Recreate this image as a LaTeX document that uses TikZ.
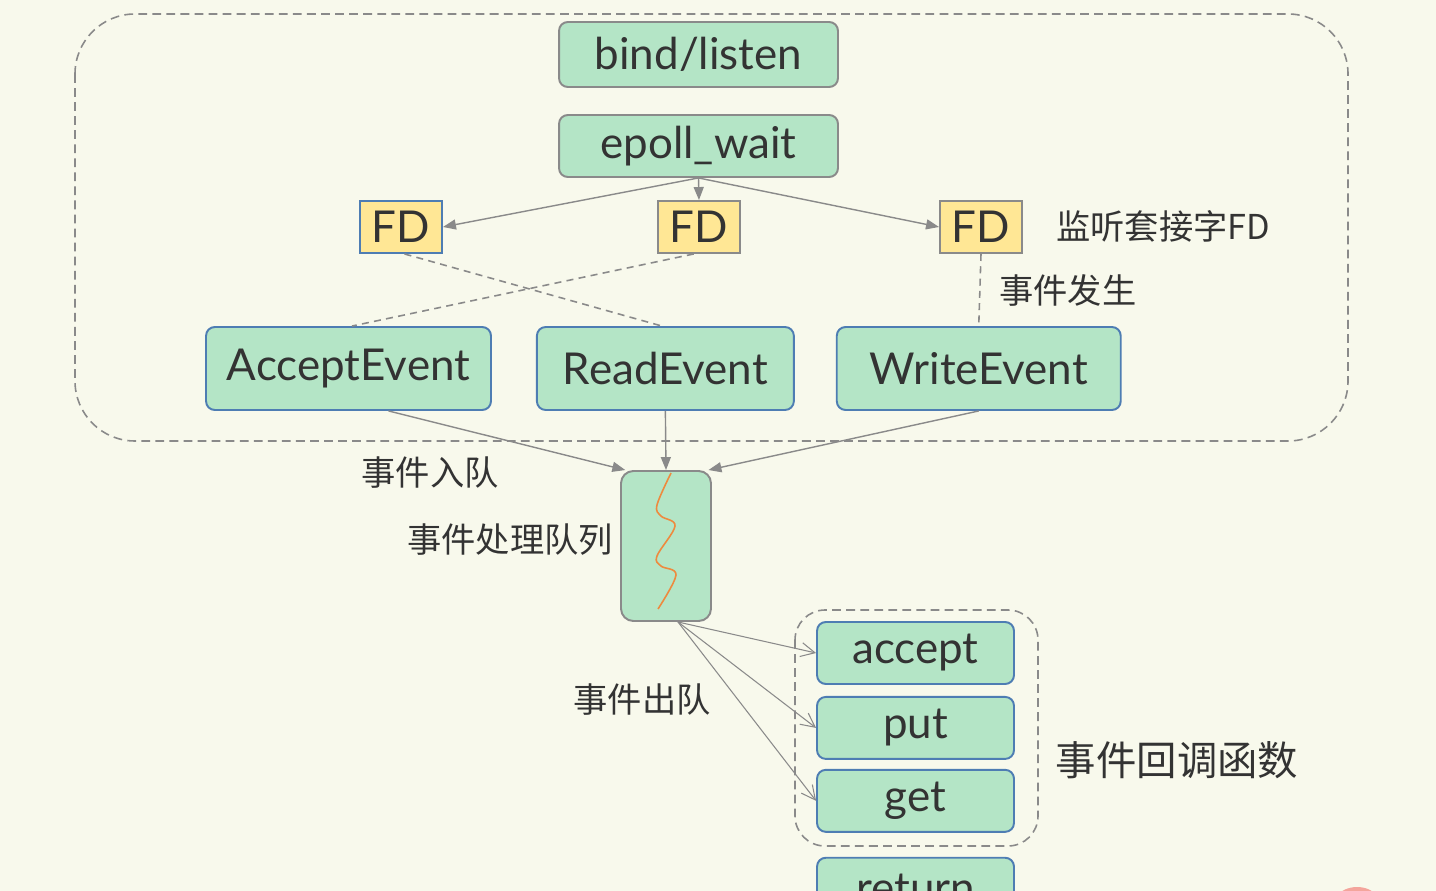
\documentclass[tikz,border=0pt]{standalone}
\usepackage{fontspec}
\setmainfont{Lato}
\newfontfamily\cjk{Noto Sans CJK SC}
\usetikzlibrary{arrows.meta,positioning}
\definecolor{bgcream}{HTML}{F8F9EC}
\definecolor{boxgreen}{HTML}{B4E5C6}
\definecolor{fdyellow}{HTML}{FFE795}
\definecolor{edgegray}{HTML}{8A8A8A}
\definecolor{edgeblue}{HTML}{4E7DB3}
\definecolor{txtgray}{HTML}{333333}
\definecolor{squiggle}{HTML}{EE8A3E}
\definecolor{dotred}{HTML}{F4A59C}

\begin{document}
\begin{tikzpicture}[
  x=0.02cm, y=-0.02cm,
  font=\fontsize{25}{30}\selectfont, text=txtgray,
  box/.style={rounded corners=5pt, fill=boxgreen, line width=1.1pt,
              inner sep=0pt, minimum height=1.24cm},
  gbox/.style={box, draw=edgegray, minimum width=5.58cm},
  ebox/.style={box, draw=edgeblue, minimum height=1.66cm},
  cbox/.style={box, draw=edgeblue, minimum width=3.94cm},
  fdbox/.style={fill=fdyellow, line width=1.1pt, inner sep=0pt,
                minimum width=1.64cm, minimum height=1.04cm},
  lbl/.style={font=\cjk\fontsize{19.5}{24}\selectfont},
  frame/.style={draw=edgegray, line width=0.9pt, dash pattern=on 5pt off 3pt},
  link/.style={draw=edgegray, line width=0.9pt, dash pattern=on 4pt off 3pt},
  arr/.style={-{Triangle[length=2.6mm,width=2mm]}, draw=edgegray, line width=0.8pt},
  deq/.style={-{Straight Barb[length=2.8mm,width=2.8mm]}, draw=edgegray, line width=0.6pt},
]
\clip (0,0) rectangle (1436,891);
\fill[bgcream] (0,0) rectangle (1436,891);

\draw[frame, rounded corners=1.2cm] (75,14) rectangle (1348,441);
\draw[frame, rounded corners=0.6cm] (795,610) rectangle (1038,846);

\node[gbox, minimum height=1.30cm] (bind) at (698.5,54.5) {bind/listen};
\node[gbox] (epoll) at (698.5,146) {epoll\_wait};

\node[fdbox, draw=edgeblue] (fd1) at (401,227) {FD};
\node[fdbox, draw=edgegray] (fd2) at (699,227) {FD};
\node[fdbox, draw=edgegray] (fd3) at (981,227) {FD};
\node[lbl, anchor=west] (fdnote) at (1050,226) {监听套接字FD};

\node[ebox, minimum width=5.70cm] (acc) at (348.5,368.5) {AcceptEvent};
\node[ebox, minimum width=5.14cm, right=0.88cm of acc] (rd) {ReadEvent};
\node[ebox, minimum width=5.68cm, right=0.82cm of rd] (wr) {WriteEvent};
\node[lbl, anchor=west] (happen) at (993,290) {事件发生};

\draw[arr] (epoll.south) -- (fd1.east);
\draw[arr] (epoll.south) -- (fd2.north);
\draw[arr] (epoll.south) -- (fd3.west);

\draw[link] ([xshift=2pt]fd1.south) -- ([xshift=-2pt]rd.north);
\draw[link] ([xshift=-3pt]fd2.south) -- ([xshift=2pt]acc.north);
\draw[link] (fd3.south) -- (wr.north);

\node[box, draw=edgegray, rounded corners=7pt, minimum width=1.8cm,
      minimum height=3.0cm] (queue) at (666,546) {};
\draw[squiggle, line width=0.9pt] plot[smooth, tension=0.6] coordinates
  {(671,473) (657,505) (661,516) (675,526) (657,556) (661,566) (676,575) (658,609)};

\draw[arr] ([xshift=0.8cm]acc.south) -- ([xshift=3pt]queue.north west);
\draw[arr] (rd.south) -- (queue.north);
\draw[arr] (wr.south) -- ([xshift=-2pt]queue.north east);

\node[lbl] (inq) at (430,473) {事件入队};
\node[lbl] (qname) at (510,540) {事件处理队列};
\node[lbl] (outq) at (642,700) {事件出队};

\node[cbox] (cbacc) at (915.5,653) {accept};
\node[cbox, below=0.22cm of cbacc] (cbput) {put};
\node[cbox, below=0.18cm of cbput] (cbget) {get};
\node[cbox, below=0.48cm of cbget] (cbret) {return};
\node[lbl, font=\cjk\fontsize{23}{28}\selectfont] (cbname) at (1177,760) {事件回调函数};

\coordinate (qout) at (678,622);
\draw[deq] (qout) -- (cbacc.west);
\draw[deq] (qout) -- (cbput.west);
\draw[deq] (qout) -- (cbget.west);

\fill[dotred] (1357,917) circle (0.6cm);
\end{tikzpicture}
\end{document}
